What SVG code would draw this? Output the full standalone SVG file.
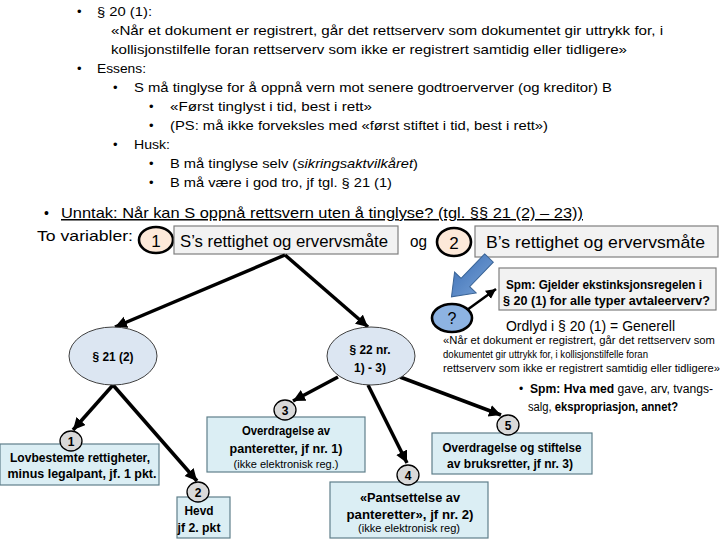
<svg xmlns="http://www.w3.org/2000/svg" width="720" height="540" viewBox="0 0 720 540">
<style>
text{font-family:"Liberation Sans",Arial,sans-serif;fill:#000}
.t{font-size:13px}
.b{font-weight:bold}
.c{text-anchor:middle}
.box{fill:#dbeef4;stroke:#5f7f8a;stroke-width:1.2}
.gbox{fill:#f2f2f2;stroke:#7f7f7f;stroke-width:1.2}
.ell{fill:#dce6f2;stroke:#404040;stroke-width:1}
.num{fill:#d9d9d9;stroke:#000;stroke-width:1.3}
.peach{fill:#fde9d9;stroke:#000;stroke-width:2.6}
.conn{stroke:#000;stroke-width:3.5;fill:none;marker-end:url(#ah)}
</style>
<defs>
<marker id="ah" markerUnits="userSpaceOnUse" markerWidth="14" markerHeight="14" refX="12" refY="6" orient="auto">
<path d="M0,0 L12,6 L0,12 Z" fill="#000"/>
</marker>
<marker id="ah2" markerUnits="userSpaceOnUse" markerWidth="12" markerHeight="12" refX="10" refY="5" orient="auto">
<path d="M0,0 L10,5 L0,10 Z" fill="#000"/>
</marker>
<linearGradient id="bg" x1="0" y1="0" x2="0" y2="1">
<stop offset="0" stop-color="#6b97cf"/><stop offset="1" stop-color="#4a7bbd"/>
</linearGradient>
</defs>
<rect width="720" height="540" fill="#fff"/>

<g id="intro">
<text class="t" x="77" y="16">•</text>
<text class="t" x="97" y="16" textLength="55" lengthAdjust="spacingAndGlyphs">§ 20 (1):</text>
<text class="t" x="111" y="35" textLength="552" lengthAdjust="spacingAndGlyphs">«Når et dokument er registrert, går det rettserverv som dokumentet gir uttrykk for, i</text>
<text class="t" x="111" y="54" textLength="516" lengthAdjust="spacingAndGlyphs">kollisjonstilfelle foran rettserverv som ikke er registrert samtidig eller tidligere»</text>
<text class="t" x="77" y="73">•</text>
<text class="t" x="97" y="73" textLength="49" lengthAdjust="spacingAndGlyphs">Essens:</text>
<text class="t" x="113" y="92">•</text>
<text class="t" x="134" y="92" textLength="478" lengthAdjust="spacingAndGlyphs">S må tinglyse for å oppnå vern mot senere godtroerverver (og kreditor) B</text>
<text class="t" x="149" y="111">•</text>
<text class="t" x="170" y="111" textLength="202" lengthAdjust="spacingAndGlyphs">«Først tinglyst i tid, best i rett»</text>
<text class="t" x="149" y="130">•</text>
<text class="t" x="170" y="130" textLength="378" lengthAdjust="spacingAndGlyphs">(PS: må ikke forveksles med «først stiftet i tid, best i rett»)</text>
<text class="t" x="113" y="149">•</text>
<text class="t" x="134" y="149" textLength="36" lengthAdjust="spacingAndGlyphs">Husk:</text>
<text class="t" x="149" y="168">•</text>
<text class="t" x="170" y="168" textLength="248" lengthAdjust="spacingAndGlyphs">B må tinglyse selv (<tspan font-style="italic">sikringsaktvilkåret</tspan>)</text>
<text class="t" x="149" y="187">•</text>
<text class="t" x="170" y="187" textLength="222" lengthAdjust="spacingAndGlyphs">B må være i god tro, jf tgl. § 21 (1)</text>
</g>

<g id="heading">
<text x="44" y="218" font-size="14">•</text>
<text x="61" y="218" font-size="15" text-decoration="underline" textLength="522" lengthAdjust="spacingAndGlyphs">Unntak: Når kan S oppnå rettsvern uten å tinglyse? (tgl. §§ 21 (2) – 23))</text>
<text x="37" y="241" font-size="15" textLength="96" lengthAdjust="spacingAndGlyphs">To variabler:</text>
<text x="410" y="247" font-size="16" textLength="17" lengthAdjust="spacingAndGlyphs">og</text>
</g>

<g id="var1">
<ellipse class="peach" cx="156" cy="240" rx="17" ry="13"/>
<text class="c" x="156" y="247" font-size="17">1</text>
<rect class="gbox" x="174" y="226" width="224" height="28"/>
<text x="180" y="247" font-size="17" textLength="208" lengthAdjust="spacingAndGlyphs">S’s rettighet og ervervsmåte</text>
</g>

<g id="var2">
<ellipse class="peach" cx="454" cy="242" rx="17" ry="14"/>
<text class="c" x="454" y="249" font-size="17">2</text>
<rect class="gbox" x="475" y="226" width="243" height="31"/>
<text x="486" y="248" font-size="17" textLength="219" lengthAdjust="spacingAndGlyphs">B’s rettighet og ervervsmåte</text>
</g>

<g id="blue-arrow">
<polygon points="0,-6 34,-6 34,-15 54,0 34,15 34,6 0,6" fill="url(#bg)" stroke="#3a6496" stroke-width="1" transform="translate(489,258) rotate(134)"/>
</g>

<g id="question">
<ellipse cx="452" cy="318" rx="20" ry="14" fill="#8db3e2" stroke="#000" stroke-width="2.6"/>
<text class="c" x="452" y="324" font-size="16">?</text>
</g>

<g id="spm1">
<rect class="gbox" x="499" y="268" width="217" height="42" stroke="#000" stroke-width="1"/>
<text class="b" x="506" y="289" font-size="12.5" textLength="196" lengthAdjust="spacingAndGlyphs">Spm: Gjelder ekstinksjonsregelen i</text>
<text class="b" x="503" y="305" font-size="12.5" textLength="207" lengthAdjust="spacingAndGlyphs">§ 20 (1) for alle typer avtaleerverv?</text>
</g>

<g id="ordlyd">
<text x="506" y="331" font-size="15" textLength="169" lengthAdjust="spacingAndGlyphs">Ordlyd i § 20 (1) = Generell</text>
<text x="443" y="344" font-size="10.5" textLength="272" lengthAdjust="spacingAndGlyphs">«Når et dokument er registrert, går det rettserverv som</text>
<text x="443" y="358" font-size="10.5" textLength="205" lengthAdjust="spacingAndGlyphs">dokumentet gir uttrykk for, i kollisjonstilfelle foran</text>
<text x="443" y="372" font-size="10.5" textLength="277" lengthAdjust="spacingAndGlyphs">rettserverv som ikke er registrert samtidig eller tidligere»</text>
<text x="519" y="393" font-size="12">•</text>
<text x="530" y="393" font-size="12" textLength="183" lengthAdjust="spacingAndGlyphs"><tspan font-weight="bold">Spm: Hva med</tspan> gave, arv, tvangs-</text>
<text x="528" y="411" font-size="12" textLength="150" lengthAdjust="spacingAndGlyphs">salg, <tspan font-weight="bold">ekspropriasjon, annet?</tspan></text>
</g>

<g id="connectors">
<line class="conn" x1="285" y1="255" x2="115" y2="327"/>
<line class="conn" x1="285" y1="255" x2="368" y2="327"/>
<line class="conn" x1="113" y1="385" x2="73" y2="430"/>
<line class="conn" x1="113" y1="385" x2="197" y2="481"/>
<line class="conn" x1="338" y1="377" x2="293" y2="401"/>
<line class="conn" x1="368" y1="385" x2="407" y2="463"/>
<line class="conn" x1="400" y1="377" x2="501" y2="415"/>
<line x1="467" y1="310" x2="496" y2="289" stroke="#000" stroke-width="2.5" marker-end="url(#ah2)"/>
</g>

<g id="p21">
<ellipse class="ell" cx="113" cy="356" rx="44" ry="29"/>
<text class="b c" x="113" y="361" font-size="13" textLength="41" lengthAdjust="spacingAndGlyphs">§ 21 (2)</text>
</g>

<g id="p22">
<ellipse class="ell" cx="371" cy="356" rx="44" ry="29"/>
<text class="b c" x="370" y="354" font-size="13" textLength="41" lengthAdjust="spacingAndGlyphs">§ 22 nr.</text>
<text class="b c" x="370" y="372" font-size="13" textLength="32" lengthAdjust="spacingAndGlyphs">1) - 3)</text>
</g>

<g id="n1">
<rect class="box" x="0" y="444" width="159" height="41"/>
<ellipse class="num" cx="71" cy="441" rx="11" ry="10"/>
<text class="b c" x="71" y="446" font-size="12">1</text>
<text class="b c" x="80" y="462" font-size="13" textLength="140" lengthAdjust="spacingAndGlyphs">Lovbestemte rettigheter,</text>
<text class="b c" x="82" y="478" font-size="13" textLength="149" lengthAdjust="spacingAndGlyphs">minus legalpant, jf. 1 pkt.</text>
</g>

<g id="n2">
<rect class="box" x="177" y="497" width="53" height="41"/>
<ellipse class="num" cx="198" cy="492" rx="11" ry="10"/>
<text class="b c" x="198" y="497" font-size="12">2</text>
<text class="b c" x="199" y="515" font-size="13" textLength="29" lengthAdjust="spacingAndGlyphs">Hevd</text>
<text class="b c" x="199" y="532" font-size="13" textLength="43" lengthAdjust="spacingAndGlyphs">jf 2. pkt</text>
</g>

<g id="n3">
<rect class="box" x="207" y="417" width="158" height="55"/>
<ellipse class="num" cx="285" cy="410" rx="11" ry="10"/>
<text class="b c" x="285" y="415" font-size="12">3</text>
<text class="b c" x="286" y="435" font-size="13" textLength="88" lengthAdjust="spacingAndGlyphs">Overdragelse av</text>
<text class="b c" x="286" y="453" font-size="13" textLength="113" lengthAdjust="spacingAndGlyphs">panteretter, jf nr. 1)</text>
<text class="c" x="286" y="468" font-size="11" textLength="105" lengthAdjust="spacingAndGlyphs">(ikke elektronisk reg.)</text>
</g>

<g id="n4">
<rect class="box" x="330" y="482" width="158" height="56"/>
<ellipse class="num" cx="408" cy="475" rx="11" ry="10"/>
<text class="b c" x="408" y="480" font-size="12">4</text>
<text class="b c" x="410" y="502" font-size="13" textLength="100" lengthAdjust="spacingAndGlyphs">«Pantsettelse av</text>
<text class="b c" x="410" y="519" font-size="13" textLength="127" lengthAdjust="spacingAndGlyphs">panteretter», jf nr. 2)</text>
<text class="c" x="409" y="532" font-size="11" textLength="102" lengthAdjust="spacingAndGlyphs">(ikke elektronisk reg)</text>
</g>

<g id="n5">
<rect class="box" x="432" y="433" width="160" height="41"/>
<ellipse class="num" cx="508" cy="425" rx="11" ry="10"/>
<text class="b c" x="508" y="430" font-size="12">5</text>
<text class="b c" x="512" y="452" font-size="13" textLength="139" lengthAdjust="spacingAndGlyphs">Overdragelse og stiftelse</text>
<text class="b c" x="510" y="468" font-size="13" textLength="126" lengthAdjust="spacingAndGlyphs">av bruksretter, jf nr. 3)</text>
</g>
</svg>
